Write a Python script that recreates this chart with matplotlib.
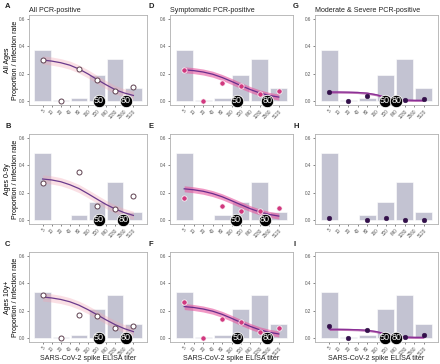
import numpy as np
import matplotlib
matplotlib.use("Agg")
import matplotlib.pyplot as plt

plt.rcParams['font.family'] = ['Liberation Sans', 'DejaVu Sans']

nan = np.nan
titers = ["5", "10", "20", "40", "80", "160", "320", "640", "1280", "2560", "5120"]
bin_idx = [0, 2, 4, 6, 8, 10]

# proportion of population per titer bin (bars), by age row
prop_all = [0.375, 0.004, 0.025, 0.19, 0.305, 0.095]
prop_0_9 = [0.49, 0.0, 0.035, 0.135, 0.28, 0.06]
prop_10p = [0.335, 0.003, 0.02, 0.215, 0.315, 0.105]

# observed infection rates per bin (points)
rate_A = [0.30, 0.0, 0.237, 0.157, 0.076, 0.10]
rate_D = [0.23, 0.0, 0.128, 0.11, 0.048, 0.075]
rate_G = [0.065, 0.0, 0.038, 0.005, 0.005, 0.015]
rate_B = [0.27, nan, 0.35, 0.105, 0.08, 0.175]
rate_E = [0.16, nan, 0.10, 0.065, 0.068, 0.088]
rate_H = [0.015, nan, 0.0, 0.015, 0.0, 0.0]
rate_C = [0.315, 0.0, 0.17, 0.16, 0.075, 0.088]
rate_F = [0.265, 0.0, 0.14, 0.12, 0.042, 0.075]
rate_I = [0.09, 0.0, 0.058, 0.005, 0.008, 0.018]

# fitted curves read at each titer step (index 0..10)
fit_A = [0.300, 0.292, 0.280, 0.262, 0.234, 0.198, 0.157, 0.118, 0.082, 0.058, 0.040]
fit_D = [0.228, 0.222, 0.212, 0.196, 0.172, 0.143, 0.112, 0.083, 0.058, 0.040, 0.028]
fit_G = [0.065, 0.065, 0.064, 0.062, 0.057, 0.045, 0.025, 0.011, 0.006, 0.004, 0.004]
fit_B = [0.300, 0.293, 0.280, 0.258, 0.230, 0.192, 0.152, 0.113, 0.080, 0.053, 0.033]
fit_E = [0.228, 0.221, 0.210, 0.193, 0.170, 0.141, 0.111, 0.082, 0.058, 0.040, 0.028]
fit_H = None
fit_C = [0.300, 0.293, 0.282, 0.265, 0.240, 0.207, 0.170, 0.132, 0.097, 0.068, 0.046]
fit_F = [0.230, 0.223, 0.212, 0.196, 0.173, 0.144, 0.113, 0.084, 0.059, 0.041, 0.029]
fit_I = [0.063, 0.063, 0.062, 0.060, 0.056, 0.046, 0.028, 0.012, 0.006, 0.004, 0.004]
band_half = [0.03, 0.022, 0.008]

# titer index where 50% / 80% protection is reached
thr_A = [6.2, 9.2]
thr_D = [5.55, 8.8]
thr_G = [5.9, 7.1]
thr_B = [6.2, 8.9]
thr_E = [5.45, 8.5]
thr_H = None
thr_C = [6.2, 9.2]
thr_F = [5.6, 8.8]
thr_I = [5.9, 7.1]

col_titles = ["All PCR-positive", "Symptomatic PCR-positive", "Moderate & Severe PCR-positive"]
row_labels = ["All Ages", "Ages 0-9y", "Ages 10y+"]
letters = [["A", "D", "G"], ["B", "E", "H"], ["C", "F", "I"]]
props = [prop_all, prop_0_9, prop_10p]
rates = [[rate_A, rate_D, rate_G], [rate_B, rate_E, rate_H], [rate_C, rate_F, rate_I]]
fits = [[fit_A, fit_D, fit_G], [fit_B, fit_E, fit_H], [fit_C, fit_F, fit_I]]
thrs = [[thr_A, thr_D, thr_G], [thr_B, thr_E, thr_H], [thr_C, thr_F, thr_I]]

band_colors = ["#f2a6b4", "#e8559f", "#a8489e"]
band_alpha = [0.35, 0.6, 0.75]
line_colors = ["#6a3a8c", "#6a2d8c", "#8a2f96"]

W, H = 440, 364
fig = plt.figure(figsize=(W / 100, H / 100), dpi=100)

col_l = [29, 170, 315]
col_w = [118, 123, 123]
row_t = [15, 134, 252]
row_h = 90

x = np.arange(len(titers))
for r in range(3):
    for c in range(3):
        ax = fig.add_axes([col_l[c] / W, 1 - (row_t[r] + row_h) / H, col_w[c] / W, row_h / H])
        ax.bar(bin_idx, props[r], width=1.8, color="#c3c3d2", edgecolor="white", linewidth=0.4, zorder=1)
        f = fits[r][c]
        if f is not None:
            f = np.array(f)
            ax.fill_between(x, f - band_half[c], f + band_half[c], color=band_colors[c],
                            alpha=band_alpha[c], linewidth=0, zorder=2)
            ax.plot(x, f, color=line_colors[c], lw=0.9, zorder=3)
        rr = rates[r][c]
        if c == 0:
            ax.plot(bin_idx, rr, 'o', ms=3.6, mfc="white", mec="#5e4150", mew=0.7, ls='none', zorder=4)
        elif c == 1:
            ax.plot(bin_idx, rr, 'o', ms=3.8, mfc="#d1397f", mec="white", mew=0.5, ls='none', zorder=4)
        else:
            ax.plot(bin_idx, rr, 'o', ms=3.4, mfc="#33104a", mec="#33104a", mew=0.3, ls='none', zorder=4)
        t = thrs[r][c]
        if t is not None:
            for xv, lab in zip(t, ["50", "80"]):
                ax.scatter([xv], [0], s=80, color="black", edgecolor="white", linewidth=0.6, zorder=6, clip_on=False)
                ax.text(xv, 0, lab, color="white", fontsize=6.5, ha="center", va="center", zorder=7)
        ax.set_xlim(-1.5, 11.5)
        ax.set_ylim(-0.03, 0.63)
        ax.set_yticks([0.0, 0.2, 0.4, 0.6])
        ax.set_yticklabels(["0.0", "0.2", "0.4", "0.6"])
        ax.set_xticks(x)
        ax.set_xticklabels(titers, rotation=45, ha="right", rotation_mode="anchor")
        ax.tick_params(labelsize=3.3, colors="#555555", length=1.6, width=0.5, pad=1.0)
        for sp in ax.spines.values():
            sp.set_color("#b0b0b0")
            sp.set_linewidth(0.6)
        if r == 0:
            ax.set_title(col_titles[c], fontsize=5.1, loc="left", pad=2.5, color="#222222")
        if c == 0:
            ax.set_ylabel(row_labels[r] + "\nProportion / infection rate", fontsize=5.0, linespacing=1.1)
            ax.yaxis.set_label_coords(-0.085, 0.5)
        if r == 2:
            cx = (col_l[c] + col_w[c] / 2) / W
            fig.text(cx, 1 - 358 / H, "SARS-CoV-2 spike ELISA titer", fontsize=5.1,
                     ha="center", va="center", color="#222222")
        fig.text((col_l[c] - 24 if c == 0 else col_l[c] - 22) / W, 1 - (row_t[r] - 8) / H, letters[r][c],
                 fontsize=5.5, fontweight="bold", ha="left", va="center", color="#222222")

fig.savefig("out.png", dpi=100)
